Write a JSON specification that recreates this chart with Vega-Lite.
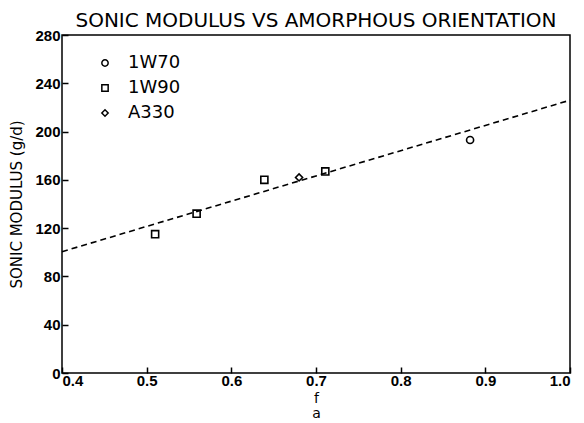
{
  "$schema": "https://vega.github.io/schema/vega-lite/v6.json",
  "width": 508,
  "height": 338,
  "autosize": {"type": "none"},
  "padding": {"left": 62, "top": 35, "right": 14, "bottom": 50},
  "background": "white",
  "title": {
    "text": "SONIC MODULUS VS AMORPHOUS ORIENTATION",
    "font": "DejaVu Sans",
    "fontSize": 20,
    "fontWeight": "normal",
    "color": "black",
    "anchor": "middle",
    "offset": -3
  },
  "config": {
    "view": {"stroke": "black", "strokeWidth": 1.5},
    "axis": {
      "grid": false,
      "domain": false,
      "tickColor": "black",
      "tickSize": -6,
      "tickWidth": 1.5,
      "labelColor": "black",
      "labelFont": "Liberation Sans",
      "labelFontWeight": "bold",
      "labelFontSize": 15,
      "titleColor": "black",
      "titleFont": "DejaVu Sans",
      "titleFontWeight": "normal"
    }
  },
  "layer": [
    {
      "data": {"values": [{"fa": 0.4, "modulus": 100.5}, {"fa": 1.0, "modulus": 226}]},
      "mark": {"type": "line", "color": "black", "strokeWidth": 1.6, "strokeDash": [6, 4]},
      "encoding": {
        "x": {"field": "fa", "type": "quantitative"},
        "y": {"field": "modulus", "type": "quantitative"}
      }
    },
    {
      "data": {"values": [
        {"sample": "1W90", "fa": 0.51, "modulus": 115},
        {"sample": "1W90", "fa": 0.559, "modulus": 132},
        {"sample": "1W90", "fa": 0.639, "modulus": 160},
        {"sample": "A330", "fa": 0.68, "modulus": 162},
        {"sample": "1W90", "fa": 0.711, "modulus": 167},
        {"sample": "1W70", "fa": 0.882, "modulus": 193}
      ]},
      "mark": {"type": "point", "filled": false, "color": "black", "strokeWidth": 1.6, "size": 50, "opacity": 1},
      "encoding": {
        "x": {
          "field": "fa", "type": "quantitative",
          "scale": {"domain": [0.4, 1.0], "nice": false, "zero": false},
          "axis": {"values": [0.4, 0.5, 0.6, 0.7, 0.8, 0.9, 1.0], "format": ".1f", "labelPadding": 6, "title": ["f", "a"], "titleFontSize": 14, "titleLineHeight": 15, "titlePadding": 3}
        },
        "y": {
          "field": "modulus", "type": "quantitative",
          "scale": {"domain": [0, 280], "nice": false},
          "axis": {"values": [0, 40, 80, 120, 160, 200, 240, 280], "labelPadding": 8, "title": "SONIC MODULUS (g/d)", "titleFontSize": 15, "titlePadding": 10}
        },
        "shape": {
          "field": "sample", "type": "nominal",
          "scale": {"domain": ["1W70", "1W90", "A330"], "range": ["circle", "square", "diamond"]},
          "legend": {
            "orient": "none",
            "legendX": 34,
            "legendY": 19,
            "title": null,
            "labelFont": "DejaVu Sans",
            "labelFontSize": 18,
            "labelColor": "black",
            "labelOffset": 14,
            "rowPadding": 7,
            "symbolSize": 40,
            "symbolStrokeColor": "black",
            "symbolStrokeWidth": 1.5,
            "symbolFillColor": "transparent"
          }
        }
      }
    }
  ]
}
